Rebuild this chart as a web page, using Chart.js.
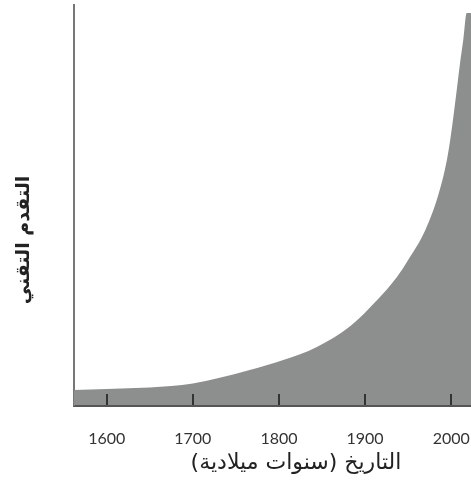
<!DOCTYPE html>
<html>
<head>
<meta charset="utf-8">
<script src="https://cdn.jsdelivr.net/npm/chart.js@4/dist/chart.umd.min.js"></script>
<style>
    body { margin: 0; background: #fff; }
    canvas { display: block; }
</style>
</head>
<body>
<canvas id="progressChart" width="471" height="481"></canvas>
<script>
// valores
const years = [1562, 1600, 1650, 1675, 1700, 1730, 1766, 1805, 1844, 1883, 1914, 1937, 1950, 1970, 1985, 1995, 2000, 2005, 2010, 2014, 2018, 2023];
const progress = [15, 16, 17.5, 19, 21.5, 27, 35, 45, 58, 79, 105, 128, 145, 175, 210, 245, 272, 305, 340, 365, 392, 392];
const tickYears = [1600, 1700, 1800, 1900, 2000];
const xTitle = 'التاريخ (سنوات ميلادية)';
const yTitle = 'التقدم التقني';

const points = years.map((y, i) => ({ x: y, y: progress[i] }));

// marcas curtas para dentro + títulos dos eixos
const extrasPlugin = {
    id: 'extras',
    afterDraw(chart) {
        const ctx = chart.ctx;
        const xs = chart.scales.x;
        const bottom = chart.chartArea.bottom;
        ctx.save();
        ctx.strokeStyle = '#333';
        ctx.lineWidth = 2;
        tickYears.forEach(t => {
            const px = Math.round(xs.getPixelForValue(t));
            ctx.beginPath();
            ctx.moveTo(px, bottom - 11);
            ctx.lineTo(px, bottom);
            ctx.stroke();
        });

        ctx.fillStyle = '#222';
        ctx.textAlign = 'center';
        ctx.textBaseline = 'middle';
        ctx.direction = 'rtl';
        ctx.font = '22px "DejaVu Sans"';
        ctx.fillText(xTitle, 296, 463);

        ctx.translate(24, 240);
        ctx.rotate(-Math.PI / 2);
        ctx.font = 'bold 19px "DejaVu Sans"';
        ctx.fillText(yTitle, 0, 0);
        ctx.restore();
    }
};

const ctx = document.getElementById('progressChart').getContext('2d');
new Chart(ctx, {
    type: 'line',
    data: {
        datasets: [{
            data: points,
            backgroundColor: '#8d8f8e',
            borderWidth: 0,
            pointRadius: 0,
            fill: 'origin',
            cubicInterpolationMode: 'monotone'
        }]
    },
    options: {
        responsive: false,
        animation: false,
        layout: { padding: { top: 5, left: 0, right: 0, bottom: 0 } },
        plugins: {
            legend: { display: false },
            tooltip: { enabled: false }
        },
        scales: {
            x: {
                type: 'linear',
                min: 1562,
                max: 2023,
                z: 1,
                afterBuildTicks: scale => {
                    scale.ticks = tickYears.map(v => ({ value: v }));
                },
                afterFit: scale => {
                    scale.height = 76;
                    scale.paddingLeft = 0;
                    scale.paddingRight = 0;
                },
                ticks: {
                    color: '#333',
                    font: { family: 'Lato', size: 16 },
                    padding: 24,
                    maxRotation: 0,
                    callback: v => String(v)
                },
                grid: { display: false, drawTicks: false },
                border: { display: true, color: '#555', width: 3 }
            },
            y: {
                min: 0,
                max: 400,
                z: 1,
                afterFit: scale => { scale.width = 74; },
                ticks: { display: false },
                grid: { display: false, drawTicks: false },
                border: { display: true, color: '#777', width: 2 }
            }
        }
    },
    plugins: [extrasPlugin]
});
</script>
</body>
</html>
